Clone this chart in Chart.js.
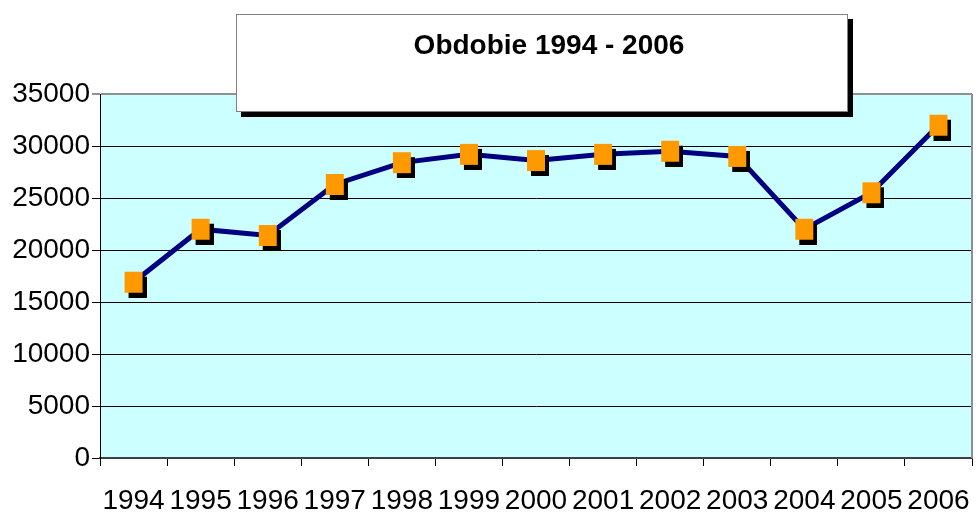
<!DOCTYPE html>
<html>
<head>
<meta charset="utf-8">
<script src="https://cdn.jsdelivr.net/npm/chart.js@4.4.1/dist/chart.umd.min.js"></script>
<style>
  html, body { margin: 0; padding: 0; background: #fff; }
  #wrap { width: 978px; height: 512px; position: relative; }
</style>
</head>
<body>
<div id="wrap"><canvas id="myChart"></canvas></div>
<script>
const years = ['1994', '1995', '1996', '1997', '1998', '1999', '2000', '2001', '2002', '2003', '2004', '2005', '2006'];
const values = [16900, 22000, 21400, 26300, 28400, 29200, 28600, 29200, 29500, 29000, 22000, 25500, 32000];
const chartTitle = 'Obdobie 1994 - 2006';

// orange square marker with black drop shadow
const marker = document.createElement('canvas');
marker.width = 26;
marker.height = 31;
const mctx = marker.getContext('2d');
mctx.fillStyle = '#000000';
mctx.fillRect(8, 10, 18, 21);
mctx.fillStyle = '#FF9900';
mctx.fillRect(4, 5, 18, 21);

const plotBox = {
    id: 'plotBox',
    beforeDraw(chart) {
        const a = chart.chartArea;
        const c = chart.ctx;
        c.save();
        c.fillStyle = '#CCFFFF';
        c.fillRect(a.left, a.top, a.right - a.left, a.bottom - a.top);
        c.restore();
    },
    beforeDatasetsDraw(chart) {
        const a = chart.chartArea;
        const c = chart.ctx;
        c.save();
        c.strokeStyle = '#909090';
        c.lineWidth = 2;
        c.beginPath();
        c.moveTo(a.right, a.top);
        c.lineTo(a.right, a.bottom);
        c.stroke();
        c.restore();
    },
    afterDraw(chart) {
        const c = chart.ctx;
        c.save();
        c.fillStyle = '#000000';
        c.fillRect(241, 19, 612, 98);
        c.fillStyle = '#ffffff';
        c.fillRect(236, 14, 612, 98);
        c.strokeStyle = '#808080';
        c.lineWidth = 1;
        c.strokeRect(236.5, 14.5, 611, 97);
        c.fillStyle = '#000000';
        c.font = 'bold 28px "Liberation Sans", Arial, sans-serif';
        c.textAlign = 'center';
        c.textBaseline = 'middle';
        c.fillText(chartTitle, 549, 46);
        c.restore();
    }
};

const ctx = document.querySelector('#myChart');
const myChart = new Chart(
    ctx,
    {
        type: 'line',
        data: {
            labels: years,
            datasets: [
                {
                    data: values,
                    borderColor: '#000080',
                    borderWidth: 5,
                    tension: 0,
                    pointStyle: marker,
                    pointRadius: 10,
                    pointHoverRadius: 10
                }
            ]
        },
        options: {
            responsive: true,
            maintainAspectRatio: false,
            animation: false,
            layout: {
                autoPadding: false,
                padding: { top: 94, right: 6, left: 0, bottom: 0 }
            },
            plugins: {
                legend: { display: false },
                title: { display: false },
                tooltip: { enabled: false }
            },
            scales: {
                x: {
                    offset: true,
                    afterFit: (scale) => {
                        scale.height = 54;
                        scale.paddingLeft = 0;
                        scale.paddingRight = 0;
                    },
                    ticks: {
                        autoSkip: false,
                        maxRotation: 0,
                        padding: 18,
                        color: '#000000',
                        font: { family: '"Liberation Sans", Arial, sans-serif', size: 28 }
                    },
                    grid: {
                        offset: true,
                        drawOnChartArea: false,
                        tickLength: 8,
                        color: '#000000'
                    },
                    border: { color: '#404040', width: 2 }
                },
                y: {
                    min: 0,
                    max: 35000,
                    afterFit: (scale) => {
                        scale.width = 100;
                        scale.paddingTop = 0;
                        scale.paddingBottom = 0;
                    },
                    ticks: {
                        stepSize: 5000,
                        padding: 2,
                        color: '#000000',
                        font: { family: '"Liberation Sans", Arial, sans-serif', size: 28 },
                        callback: function (value) {
                            return String(value);
                        }
                    },
                    grid: {
                        tickLength: 8,
                        color: (c) => (c.tick && c.tick.value === 35000 ? '#909090' : '#000000'),
                        lineWidth: (c) => (c.tick && c.tick.value === 35000 ? 2 : 1)
                    },
                    border: { color: '#000000', width: 1 }
                }
            }
        },
        plugins: [plotBox]
    }
);
</script>
</body>
</html>
